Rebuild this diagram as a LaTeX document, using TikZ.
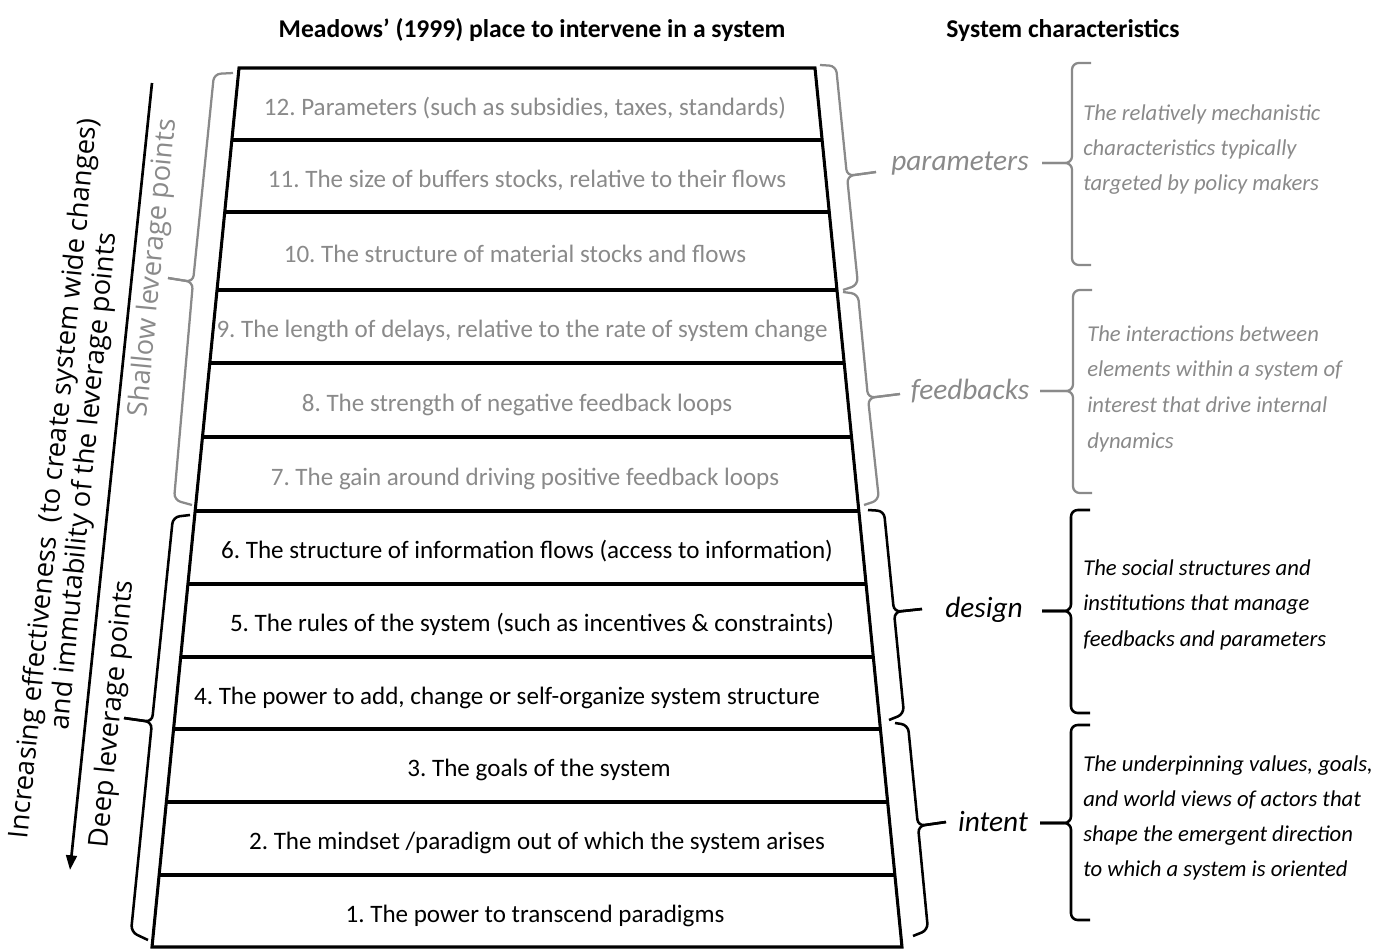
\documentclass[tikz,border=0pt]{standalone}
\usepackage{fontspec}
\setmainfont{Carlito}
\newfontfamily\sidefont{Open Sans}
\usetikzlibrary{arrows.meta,calc}
\definecolor{softgray}{HTML}{8A8A8A}
\begin{document}
\frenchspacing
\begin{tikzpicture}[x=0.75pt,y=-0.75pt,
  frame/.style={line width=2.3pt, line join=miter},
  rowtext/.style={inner sep=0pt, anchor=base, font=\fontsize{18.8}{22}\selectfont},
  shallowrow/.style={rowtext, text=softgray},
  deeprow/.style={rowtext, text=black},
  heading/.style={inner sep=0pt, anchor=base, font=\fontsize{19.2}{22}\selectfont\bfseries},
  kindlabel/.style={inner sep=0pt, anchor=base, font=\fontsize{22}{26}\selectfont\itshape},
  chartext/.style={inner sep=0pt, anchor=base west, font=\fontsize{17}{21}\selectfont\itshape},
  sidetext/.style={inner sep=0pt, rotate=84.5, font=\sidefont\fontsize{20.5}{22.5}\selectfont},
  gbrace/.style={draw=softgray, line width=1.7pt, rounded corners=5pt},
  kbrace/.style={draw=black, line width=1.9pt, rounded corners=5pt},
  trend/.style={line width=2pt, -{Triangle[length=11pt,width=8pt]}}
]
\useasboundingbox (0,0) rectangle (1390,950);

% headings
\node[heading] (h1) at (532,37) {Meadows’ (1999) place to intervene in a system};
\node[heading] (h2) at (1063,37) {System characteristics};

% the ladder of leverage points
\coordinate (TL) at (239,68);
\coordinate (TR) at (815,68);
\coordinate (BL) at (152,947);
\coordinate (BR) at (902,947);
\foreach \yy [count=\i from 0] in {68,140,212,290,363,437,511,584,657,729,802,875,947} {
  \coordinate (L\i) at ($(TL)!{(\yy-68)/879}!(BL)$);
  \coordinate (R\i) at ($(TR)!{(\yy-68)/879}!(BR)$);
}
\draw[frame] (L0) -- (R0) -- (R12) -- (L12) -- cycle;
\foreach \i in {1,...,11} \draw[frame] (L\i) -- (R\i);

\node[shallowrow] (p12) at (525,115) {12. Parameters (such as subsidies, taxes, standards)};
\node[shallowrow] (p11) at (527,187) {11. The size of buffers stocks, relative to their flows};
\node[shallowrow] (p10) at (515,262) {10. The structure of material stocks and flows};
\node[shallowrow] (p9)  at (522,337) {9. The length of delays, relative to the rate of system change};
\node[shallowrow] (p8)  at (517,411) {8. The strength of negative feedback loops};
\node[shallowrow] (p7)  at (525,485) {7. The gain around driving positive feedback loops};
\node[deeprow] (p6) at (527,558) {6. The structure of information flows (access to information)};
\node[deeprow] (p5) at (532,631) {5. The rules of the system (such as incentives \& constraints)};
\node[deeprow] (p4) at (507,704) {4. The power to add, change or self-organize system structure};
\node[deeprow] (p3) at (539,776) {3. The goals of the system};
\node[deeprow] (p2) at (537,849) {2. The mindset /paradigm out of which the system arises};
\node[deeprow] (p1) at (535,922) {1. The power to transcend paradigms};

% left side: braces, direction arrow and captions
\draw[gbrace] (233,73) -- (214,74) -- (193,282) -- (168,278);
\draw[gbrace] (168,278) -- (193,282) -- (174,500) -- (192,505);
\draw[kbrace] (190,515) -- (173,517) -- (152,722) -- (124,718);
\draw[kbrace] (124,718) -- (152,722) -- (131,932) -- (148,940);

\coordinate (arrowTop) at (152,83);
\coordinate (arrowEnd) at (70,870);
\draw[trend] (arrowTop) -- (arrowEnd);

\node[sidetext, align=center] (effect) at (70,480)
  {Increasing effectiveness~ (to create system wide changes)\\and immutability of the leverage points};
\node[sidetext, text=softgray] (shallow) at (154,268) {Shallow leverage points};
\node[sidetext] (deep) at (113,714) {Deep leverage points};

% right side: braces grouping the rows
\draw[gbrace] (820,65) -- (836,66) -- (847,176) -- (876,172);
\draw[gbrace] (876,172) -- (847,176) -- (858,285) -- (843,290);
\draw[gbrace] (843,292) -- (858,294) -- (868,398) -- (900,394);
\draw[gbrace] (900,394) -- (868,398) -- (879,500) -- (864,505);
\draw[kbrace] (868,510) -- (884,511) -- (894,612) -- (922,609);
\draw[kbrace] (922,609) -- (894,612) -- (904,714) -- (889,720);
\draw[kbrace] (895,723) -- (908,725) -- (918,826) -- (946,822);
\draw[kbrace] (946,822) -- (918,826) -- (928,930) -- (913,936);

\node[kindlabel, text=softgray] (kpar) at (960,170) {parameters};
\node[kindlabel, text=softgray] (kfb) at (970,399) {feedbacks};
\node[kindlabel] (kdes) at (984,617) {design};
\node[kindlabel] (kint) at (993,831) {intent};

% braces in front of the descriptions
\draw[gbrace] (1091,63) -- (1072,63) -- (1072,163) -- (1042,163);
\draw[gbrace] (1042,163) -- (1072,163) -- (1072,265) -- (1091,265);
\draw[gbrace] (1092,290) -- (1073,290) -- (1073,391) -- (1040,391);
\draw[gbrace] (1040,391) -- (1073,391) -- (1073,493) -- (1092,493);
\draw[kbrace] (1090,510) -- (1071,510) -- (1071,611) -- (1042,611);
\draw[kbrace] (1042,611) -- (1071,611) -- (1071,713) -- (1090,713);
\draw[kbrace] (1090,725) -- (1071,725) -- (1071,823) -- (1040,823);
\draw[kbrace] (1040,823) -- (1071,823) -- (1071,920) -- (1090,920);

\begin{scope}[every node/.style={chartext, text=softgray}]
\node (cpa) at (1083,120) {The relatively mechanistic};
\node (cpb) at (1083,155) {characteristics typically};
\node (cpc) at (1083,190) {targeted by policy makers};
\node (cfa) at (1087,341) {The interactions between};
\node (cfb) at (1087,376) {elements within a system of};
\node (cfc) at (1087,412) {interest that drive internal};
\node (cfd) at (1087,448) {dynamics};
\end{scope}
\begin{scope}[every node/.style={chartext, text=black}]
\node (cda) at (1083,575) {The social structures and};
\node (cdb) at (1083,610) {institutions that manage};
\node (cdc) at (1083,646) {feedbacks and parameters};
\node (cia) at (1083,771) {The underpinning values, goals,};
\node (cib) at (1083,806) {and world views of actors that};
\node (cic) at (1083,841) {shape the emergent direction};
\node (cid) at (1083,876) {to which a system is oriented};
\end{scope}
\end{tikzpicture}
\end{document}
